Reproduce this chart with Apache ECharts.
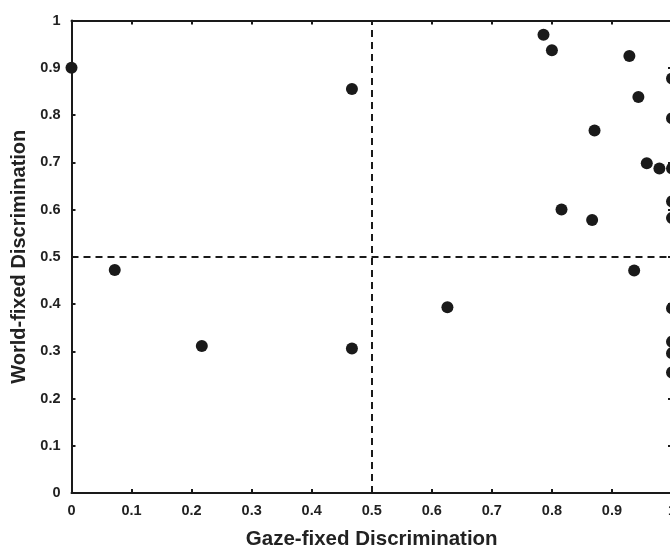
<!DOCTYPE html>
<html>
<head>
<meta charset="utf-8">
<style>
  html, body { margin: 0; padding: 0; background: #fff; }
  #chart { width: 670px; height: 549px; }
</style>
<script src="https://cdn.jsdelivr.net/npm/echarts@6/dist/echarts.min.js"></script>
</head>
<body>
<div id="chart"></div>
<script>
// 数据
const gazeFixed = [0, 0.072, 0.217, 0.467, 0.467, 0.626, 0.786, 0.8, 0.929, 0.944, 0.871,
  0.958, 0.979, 0.816, 0.867, 0.937, 1, 1, 1, 1, 1, 1, 1, 1, 1];
const worldFixed = [0.9, 0.472, 0.311, 0.855, 0.306, 0.393, 0.97, 0.937, 0.925, 0.838, 0.767,
  0.698, 0.687, 0.6, 0.578, 0.471, 0.877, 0.793, 0.687, 0.617, 0.582, 0.391, 0.32, 0.296, 0.255];
const axisTicks = [0, 0.1, 0.2, 0.3, 0.4, 0.5, 0.6, 0.7, 0.8, 0.9, 1];
const chanceLevel = 0.5;

(function () {
  let myChart = echarts.init(document.getElementById("chart"));
  let points = gazeFixed.map((x, i) => [x, worldFixed[i]]);
  let fmt = (v) => String(+v.toFixed(1));
  let font = "Liberation Sans, Arial, Helvetica, sans-serif";

  let axisBase = {
    type: "value",
    min: axisTicks[0],
    max: axisTicks[axisTicks.length - 1],
    interval: 0.1,
    splitLine: { show: false },
    axisLine: { onZero: false, lineStyle: { color: "#1a1a1a", width: 2 } },
    axisTick: { inside: true, length: 4, lineStyle: { color: "#1a1a1a", width: 2 } },
  };

  let option = {
    animation: false,
    backgroundColor: "#fff",
    // 图的右边缘被裁掉了，所以 right 为负
    grid: { left: 71.5, right: -2, top: 20.5, bottom: 56, containLabel: false, outerBoundsMode: "none" },
    xAxis: [
      Object.assign({}, axisBase, {
        position: "bottom",
        name: "Gaze-fixed Discrimination",
        nameLocation: "middle",
        nameGap: 36,
        nameTextStyle: { fontFamily: font, fontWeight: "bold", fontSize: 20.5, color: "#222" },
        axisLabel: { formatter: fmt, margin: 10, fontFamily: font, fontWeight: "bold", fontSize: 14.5, color: "#222" },
      }),
      Object.assign({}, axisBase, { position: "top", axisLabel: { show: false } }),
    ],
    yAxis: [
      Object.assign({}, axisBase, {
        position: "left",
        name: "World-fixed Discrimination",
        nameLocation: "middle",
        nameGap: 42,
        nameTextStyle: { fontFamily: font, fontWeight: "bold", fontSize: 20, color: "#222" },
        axisLabel: { formatter: fmt, margin: 11, fontFamily: font, fontWeight: "bold", fontSize: 14.5, color: "#222" },
      }),
      Object.assign({}, axisBase, { position: "right", axisLabel: { show: false } }),
    ],
    series: [
      {
        type: "scatter",
        data: points,
        symbolSize: 12,
        clip: false,
        itemStyle: { color: "#1a1a1a", opacity: 1 },
        markLine: {
          silent: true,
          symbol: "none",
          label: { show: false },
          lineStyle: { color: "#1a1a1a", width: 2, type: [7, 5] },
          data: [{ xAxis: chanceLevel }, { yAxis: chanceLevel }],
        },
      },
    ],
  };

  myChart.setOption(option);
  window.addEventListener("resize", function () {
    myChart.resize();
  });
})();
</script>
</body>
</html>
